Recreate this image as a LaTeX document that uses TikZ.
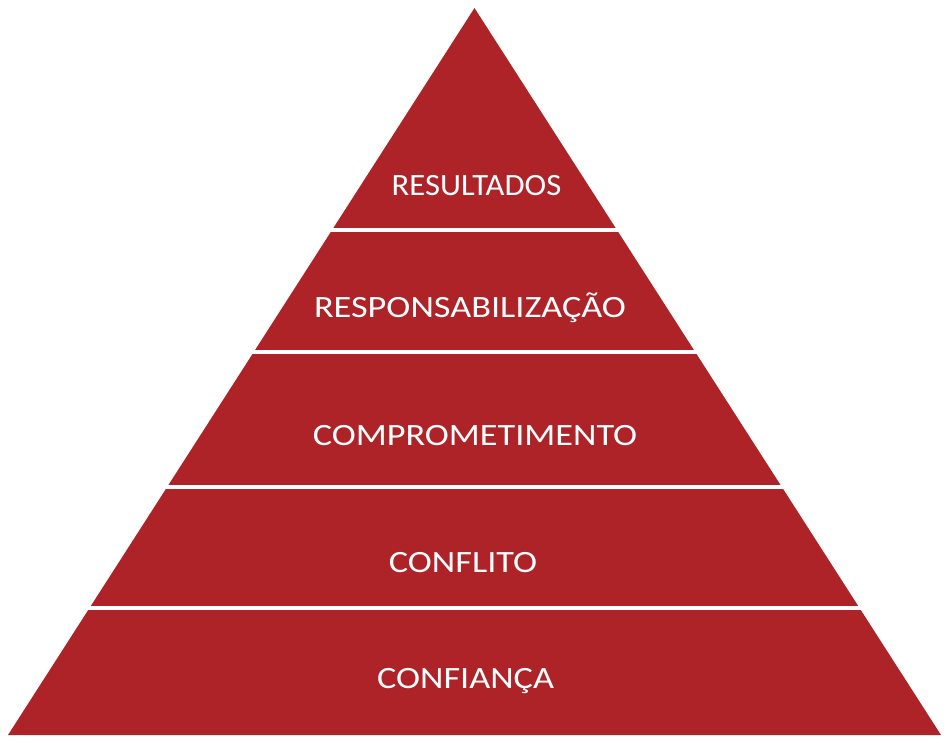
\documentclass[tikz,border=0pt]{standalone}
\usepackage{fontspec}
\setmainfont{Carlito}
\definecolor{pyr}{RGB}{174,35,40}
\begin{document}
\begin{tikzpicture}[x=1pt,y=-1pt,
  lbl/.style={text=white,font=\fontsize{31}{33}\selectfont,inner sep=0pt,anchor=base,xscale=1.17},
  gap/.style={draw=white,line width=3.2pt}]
\useasboundingbox (0,0) rectangle (949,742);
\coordinate (apex) at (474.5,8);
\coordinate (bl) at (8,735);
\coordinate (br) at (941,735);
\fill[pyr] (apex) -- (br) -- (bl) -- cycle;
\foreach \yy in {230,352,487,608} {
  \draw[gap] (0,\yy) -- (949,\yy);
}
\node[lbl,xscale=0.9] (l1) at (476.5,195) {RESULTADOS};
\node[lbl] (l2) at (470,317) {RESPONSABILIZAÇÃO};
\node[lbl] (l3) at (475,445) {COMPROMETIMENTO};
\node[lbl] (l4) at (463,572) {CONFLITO};
\node[lbl] (l5) at (465.5,688) {CONFIANÇA};
\end{tikzpicture}
\end{document}
